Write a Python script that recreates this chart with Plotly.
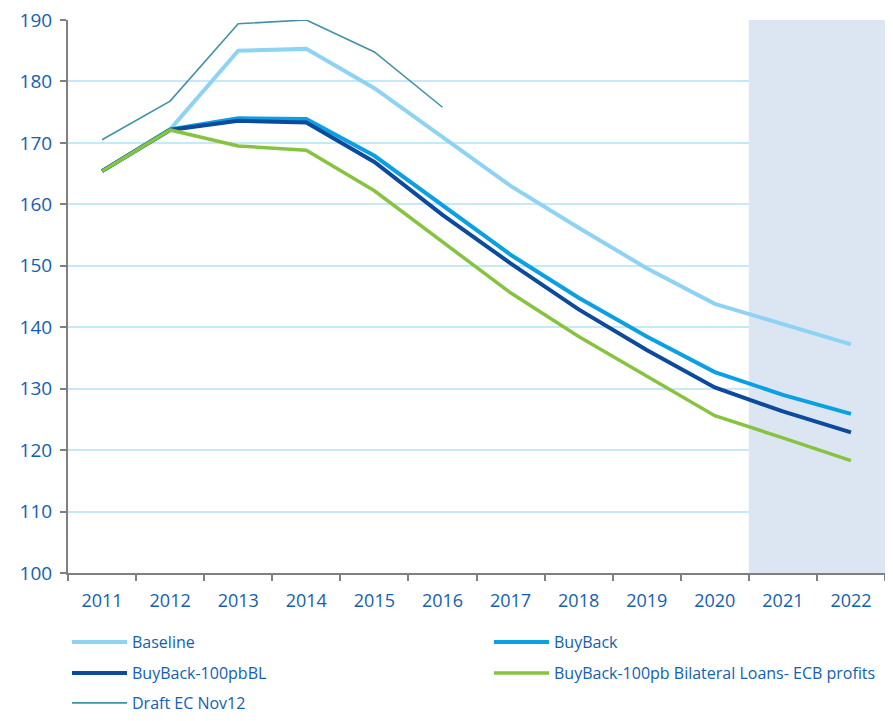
import plotly.graph_objects as go

# years on the x axis
years = ["2011", "2012", "2013", "2014", "2015", "2016",
         "2017", "2018", "2019", "2020", "2021", "2022"]

# debt scenarios
baseline = [165.4, 172.2, 185.0, 185.3, 178.9, 170.9, 163.0, 156.2, 149.6, 143.8, 140.5, 137.2]
buyback = [165.4, 172.2, 174.0, 173.9, 167.9, 159.9, 151.8, 144.8, 138.5, 132.7, 129.0, 125.9]
buyback_bl = [165.4, 172.1, 173.6, 173.3, 166.9, 158.3, 150.4, 142.9, 136.3, 130.2, 126.3, 122.9]
buyback_ecb = [165.4, 172.1, 169.5, 168.8, 162.2, 153.9, 145.6, 138.5, 132.1, 125.6, 122.0, 118.3]
draft_ec = [170.5, 176.8, 189.4, 190.0, 184.8, 175.8, None, None, None, None, None, None]

# shaded forecast years
shade_years = ["2021", "2022"]

blue_txt = "#1360b3"

# page body has an 8px margin, so the figure is a bit smaller than the window
W, H = 877, 705
ML, MT, PW, PH = 60, 12, 817, 553

fig = go.Figure()

# shaded area behind the last two years
fig.add_shape(type="rect", xref="x", yref="y",
              x0=years.index(shade_years[0]) - 0.5,
              x1=years.index(shade_years[-1]) + 0.5,
              y0=100, y1=190, fillcolor="#dce6f2",
              line=dict(width=0), layer="between")

# name, values, colour, width, legend id
series = [
    ("Baseline", baseline, "#8fd3f4", 4, "legend"),
    ("BuyBack", buyback, "#0aa0e2", 4, "legend2"),
    ("BuyBack-100pbBL", buyback_bl, "#0b4a9c", 4, "legend3"),
    ("Draft EC Nov12", draft_ec, "#3f93a6", 1.6, "legend5"),
    ("BuyBack-100pb Bilateral Loans- ECB profits", buyback_ecb, "#86c440", 3.5, "legend4"),
]
for name, vals, col, w, leg in series:
    fig.add_trace(go.Scatter(
        x=years, y=vals, name=name, mode="lines",
        line=dict(color=col, width=w),
        legend=leg, connectgaps=False,
    ))

# legend entries placed as a 2-column grid (one legend per entry)
def px_x(p):
    return (p - ML) / PW

def px_y(p):
    return (MT + PH - p) / PH

col_x = [px_x(59), px_x(481)]
row_y = [px_y(634), px_y(665), px_y(695)]
leg_common = dict(
    orientation="h", xanchor="left", yanchor="middle", itemwidth=55,
    font=dict(size=16, color=blue_txt), bgcolor="rgba(0,0,0,0)",
)

fig.update_layout(
    width=W, height=H,
    margin=dict(l=ML, r=W - ML - PW, t=MT, b=H - MT - PH, autoexpand=False),
    plot_bgcolor="white", paper_bgcolor="white",
    font=dict(family="Open Sans", color=blue_txt),
    showlegend=True,
    legend=dict(x=col_x[0], y=row_y[0], **leg_common),
    legend2=dict(x=col_x[1], y=row_y[0], **leg_common),
    legend3=dict(x=col_x[0], y=row_y[1], **leg_common),
    legend4=dict(x=col_x[1], y=row_y[1], **leg_common),
    legend5=dict(x=col_x[0], y=row_y[2], **leg_common),
    xaxis=dict(
        type="category", range=[-0.5, 11.5],
        showgrid=False, showline=True, linecolor="#808080", linewidth=2,
        ticks="outside", tickson="boundaries", ticklen=6, tickcolor="#808080", tickwidth=2,
        tickfont=dict(size=18, color=blue_txt), ticklabelstandoff=10,
    ),
    yaxis=dict(
        range=[100, 190], dtick=10,
        showgrid=True, gridcolor="#c6e9f8", gridwidth=2,
        showline=True, linecolor="#808080", linewidth=2,
        ticks="outside", ticklen=6, tickcolor="#808080", tickwidth=2,
        tickfont=dict(size=19, color=blue_txt), ticklabelstandoff=4,
        ticklabeloverflow="allow", zeroline=False,
    ),
)

fig.write_html("out.html")
